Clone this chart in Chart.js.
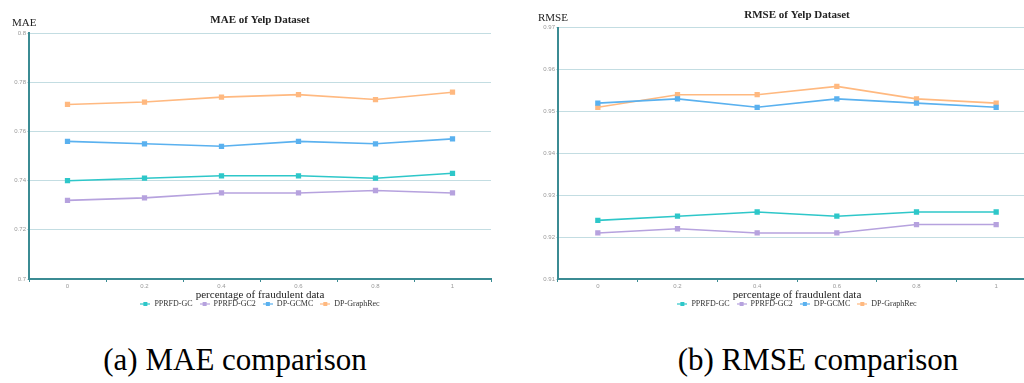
<!DOCTYPE html>
<html>
<head>
<meta charset="utf-8">
<script src="https://cdn.jsdelivr.net/npm/chart.js@4.4.1/dist/chart.umd.min.js"></script>
<style>
  html, body { margin:0; padding:0; background:#fff; width:1024px; height:383px; overflow:hidden; position:relative; }
  .wrap { position:absolute; }
  .name { position:absolute; font-family:"Liberation Serif","Times New Roman",serif; font-size:11px; line-height:11px; color:#222; white-space:nowrap; }
  .cap { position:absolute; font-family:"Liberation Serif","Times New Roman",serif; font-size:31px; line-height:31px; color:#000; white-space:nowrap; transform:translateX(-50%); }
</style>
</head>
<body>
<div class="wrap" style="left:0;top:0;width:520px;height:318px;"><canvas id="c1"></canvas></div>
<div class="wrap" style="left:512px;top:0;width:540px;height:318px;"><canvas id="c2"></canvas></div>
<div class="name" style="left:12px;top:17px;">MAE</div>
<div class="name" style="left:538px;top:12px;">RMSE</div>
<div class="cap" style="left:235px;top:344px;">(a) MAE comparison</div>
<div class="cap" style="left:818px;top:344px;">(b) RMSE comparison</div>
<script>
const categories = ['0', '0.2', '0.4', '0.6', '0.8', '1'];
const seriesNames = ['PPRFD-GC', 'PPRFD-GC2', 'DP-GCMC', 'DP-GraphRec'];
const seriesColors = ['#2ec7c9', '#b6a2de', '#5ab1ef', '#ffb980'];

const maePPRFDGC   = [0.740, 0.741, 0.742, 0.742, 0.741, 0.743];
const maePPRFDGC2  = [0.732, 0.733, 0.735, 0.735, 0.736, 0.735];
const maeDPGCMC    = [0.756, 0.755, 0.754, 0.756, 0.755, 0.757];
const maeDPGraphRec= [0.771, 0.772, 0.774, 0.775, 0.773, 0.776];

const rmsePPRFDGC   = [0.924, 0.925, 0.926, 0.925, 0.926, 0.926];
const rmsePPRFDGC2  = [0.921, 0.922, 0.921, 0.921, 0.923, 0.923];
const rmseDPGCMC    = [0.952, 0.953, 0.951, 0.953, 0.952, 0.951];
const rmseDPGraphRec= [0.951, 0.954, 0.954, 0.956, 0.953, 0.952];

const maeTitle = 'MAE of Yelp Dataset';
const rmseTitle = 'RMSE of Yelp Dataset';
const xTitle = 'percentage of fraudulent data';

const AXIS = '#3b8b93';
const GRID = '#c3dde2';

function legendIcon(color) {
  const c = document.createElement('canvas');
  c.width = 10; c.height = 6;
  const g = c.getContext('2d');
  g.strokeStyle = color; g.lineWidth = 1.2;
  g.beginPath(); g.moveTo(0, 3); g.lineTo(10, 3); g.stroke();
  g.fillStyle = color; g.fillRect(3, 1, 4, 4);
  return c;
}
const icons = seriesColors.map(legendIcon);

function makeDatasets(arrs) {
  return arrs.map((d, i) => ({
    label: seriesNames[i],
    data: d,
    borderColor: seriesColors[i],
    backgroundColor: seriesColors[i],
    borderWidth: 1.6,
    pointStyle: 'rect',
    pointRadius: 2.6,
    pointHoverRadius: 2.6,
    tension: 0,
    fill: false
  }));
}

function makeChart(id, arrs, title, yMin, yMax, yStep, yWidth, rightPad, titleTop, titleBottom) {
  return new Chart(document.getElementById(id), {
    type: 'line',
    data: { labels: categories, datasets: makeDatasets(arrs) },
    options: {
      responsive: true,
      maintainAspectRatio: false,
      animation: false,
      layout: { padding: { top: 0, right: rightPad, bottom: 0, left: 0 } },
      plugins: {
        tooltip: { enabled: false },
        title: {
          display: true, text: title, fullSize: false,
          color: '#222',
          font: { family: 'Liberation Serif', size: 11, weight: 'bold', lineHeight: 1.2 },
          padding: { top: titleTop, bottom: titleBottom }
        },
        legend: {
          position: 'bottom', fullSize: false,
          labels: {
            usePointStyle: true,
            pointStyleWidth: 10,
            color: '#333',
            boxWidth: 10, boxHeight: 6,
            padding: 7,
            font: { family: 'Liberation Serif', size: 8 },
            generateLabels: (chart) => chart.data.datasets.map((ds, i) => ({
              text: ds.label, fillStyle: ds.borderColor, strokeStyle: ds.borderColor,
              pointStyle: icons[i], datasetIndex: i, hidden: false, lineWidth: 0, fontColor: '#333'
            }))
          }
        }
      },
      scales: {
        x: {
          type: 'category',
          offset: true,
          afterFit: (s) => { s.height = 14; },
          grid: { offset: true, drawOnChartArea: false, drawTicks: true, tickLength: 3, color: AXIS, lineWidth: 1 },
          border: { display: true, color: AXIS, width: 2 },
          ticks: { color: '#999', font: { family: 'Liberation Sans', size: 6 }, padding: 1, maxRotation: 0 },
          title: { display: true, text: xTitle, color: '#222', font: { family: 'Liberation Serif', size: 11, lineHeight: 1 }, padding: { top: 0, bottom: -7.5 } }
        },
        y: {
          min: yMin, max: yMax,
          afterFit: (s) => { s.width = yWidth; },
          grid: { color: GRID, lineWidth: 1, drawTicks: true, tickLength: 2 },
          border: { display: true, color: AXIS, width: 2 },
          ticks: {
            stepSize: yStep, color: '#999', padding: 1,
            font: { family: 'Liberation Sans', size: 6 },
            callback: (v) => String(parseFloat(Number(v).toFixed(2)))
          }
        }
      }
    }
  });
}

makeChart('c1', [maePPRFDGC, maePPRFDGC2, maeDPGCMC, maeDPGraphRec], maeTitle, 0.7, 0.8, 0.02, 29, 29, 14, 6);
makeChart('c2', [rmsePPRFDGC, rmsePPRFDGC2, rmseDPGCMC, rmseDPGraphRec], rmseTitle, 0.91, 0.97, 0.01, 46, 16, 8.5, 6);
</script>
</body>
</html>
